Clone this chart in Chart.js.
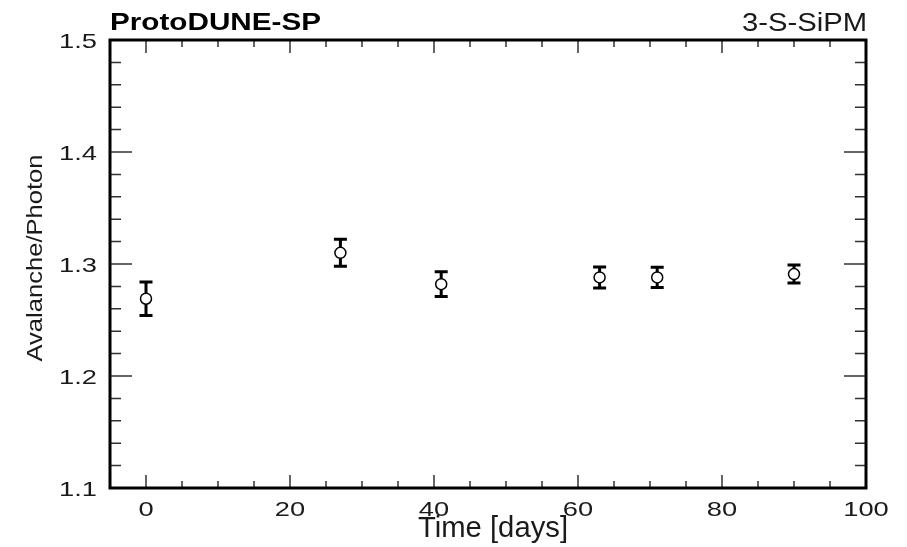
<!DOCTYPE html>
<html>
<head>
<meta charset="utf-8">
<script src="https://cdn.jsdelivr.net/npm/chart.js@4/dist/chart.umd.min.js"></script>
<style>
  html, body { margin: 0; padding: 0; background: #ffffff; }
  #wrap { width: 907px; height: 547px; }
</style>
</head>
<body>
<div id="wrap"><canvas id="chart" width="907" height="547"></canvas></div>
<script>
// Measured gain of the 3-S-SiPM over time
const days = [0, 27, 41, 63, 71, 90];
const avalanchePerPhoton = [1.269, 1.310, 1.282, 1.288, 1.288, 1.291];
const errors = [0.015, 0.012, 0.011, 0.0094, 0.009, 0.008];

const xTickValues = [0, 20, 40, 60, 80, 100];
const xTickLabels = ['0', '20', '40', '60', '80', '100'];
const yTickValues = [1.1, 1.2, 1.3, 1.4, 1.5];
const yTickLabels = ['1.1', '1.2', '1.3', '1.4', '1.5'];

const FONT = "'Liberation Sans', Arial, Helvetica, sans-serif";
const LABEL_FONT = '21px ' + FONT;
const LABEL_STRETCH = 1.3;

// Text with a horizontal stretch factor k (along the text direction)
function drawText(ctx, text, font, x, y, k, align, rotated, color) {
  ctx.save();
  ctx.font = font;
  ctx.fillStyle = color || '#000';
  ctx.textBaseline = 'alphabetic';
  ctx.translate(x, y);
  if (rotated) ctx.rotate(-Math.PI / 2);
  ctx.scale(k, 1);
  ctx.textAlign = align;
  ctx.fillText(text, 0, 0);
  ctx.restore();
}

// Same, with k chosen so the text spans the given width
function fitText(ctx, text, font, x, y, width, align, rotated, color) {
  ctx.save();
  ctx.font = font;
  const k = width / ctx.measureText(text).width;
  ctx.restore();
  drawText(ctx, text, font, x, y, k, align, rotated, color);
}

// Frame with inward ticks on all four sides, tick labels, error bars and titles
const framePlugin = {
  id: 'frame',
  beforeDatasetsDraw(chart) {
    const ctx = chart.ctx;
    const { left, right, top, bottom } = chart.chartArea;
    const xs = chart.scales.x, ys = chart.scales.y;
    ctx.save();

    // ticks
    ctx.strokeStyle = '#333';
    ctx.lineWidth = 1.5;
    ctx.beginPath();
    for (let v = Math.ceil(xs.min / 5) * 5; v < xs.max; v += 5) {
      const px = xs.getPixelForValue(v);
      if (px <= left + 1 || px >= right - 1) continue;
      const len = v % 20 === 0 ? 13 : 7;
      ctx.moveTo(px, bottom); ctx.lineTo(px, bottom - len);
      ctx.moveTo(px, top); ctx.lineTo(px, top + len);
    }
    for (let k = 1; k < 20; k++) {
      const py = ys.getPixelForValue(ys.min + k * 0.02);
      const len = k % 5 === 0 ? 22 : 11;
      ctx.moveTo(left, py); ctx.lineTo(left + len, py);
      ctx.moveTo(right, py); ctx.lineTo(right - len, py);
    }
    ctx.stroke();

    // frame
    ctx.strokeStyle = '#000';
    ctx.lineWidth = 3;
    ctx.strokeRect(left, top, right - left, bottom - top);

    // error bars
    ctx.lineWidth = 3;
    ctx.lineCap = 'butt';
    ctx.beginPath();
    for (let i = 0; i < days.length; i++) {
      const px = xs.getPixelForValue(days[i]);
      const y1 = ys.getPixelForValue(avalanchePerPhoton[i] + errors[i]);
      const y2 = ys.getPixelForValue(avalanchePerPhoton[i] - errors[i]);
      ctx.moveTo(px, y1); ctx.lineTo(px, y2);
      ctx.moveTo(px - 6.5, y1); ctx.lineTo(px + 6.5, y1);
      ctx.moveTo(px - 6.5, y2); ctx.lineTo(px + 6.5, y2);
    }
    ctx.stroke();
    ctx.restore();

    // tick labels
    xTickValues.forEach((v, i) => {
      drawText(ctx, xTickLabels[i], LABEL_FONT, xs.getPixelForValue(v), bottom + 28,
               LABEL_STRETCH, 'center', false, '#1a1a1a');
    });
    yTickValues.forEach((v, i) => {
      drawText(ctx, yTickLabels[i], LABEL_FONT, left - 13, ys.getPixelForValue(v) + 8,
               LABEL_STRETCH, 'right', false, '#1a1a1a');
    });
  },
  afterDraw(chart) {
    const ctx = chart.ctx;
    const { left, right } = chart.chartArea;
    fitText(ctx, 'ProtoDUNE-SP', 'bold 24px ' + FONT, left, 30, 211, 'left', false);
    fitText(ctx, '3-S-SiPM', '25px ' + FONT, right + 1, 31, 125, 'right', false, '#1a1a1a');
    fitText(ctx, 'Time [days]', '30px ' + FONT, 493, 537, 150, 'center', false, '#1a1a1a');
    fitText(ctx, 'Avalanche/Photon', '22px ' + FONT, 42, 258, 207, 'center', true, '#1a1a1a');
  }
};

new Chart(document.getElementById('chart'), {
  type: 'scatter',
  data: {
    datasets: [{
      data: days.map((d, i) => ({ x: d, y: avalanchePerPhoton[i] })),
      pointRadius: 5.5,
      pointHoverRadius: 5.5,
      pointBorderWidth: 1.5,
      pointBackgroundColor: '#ffffff',
      pointBorderColor: '#000000',
      showLine: false
    }]
  },
  options: {
    responsive: false,
    animation: false,
    events: [],
    layout: { padding: { top: 40, right: 41, left: 0, bottom: 0 } },
    plugins: { legend: { display: false }, tooltip: { enabled: false }, title: { display: false } },
    scales: {
      x: {
        type: 'linear',
        min: -5,
        max: 100,
        border: { display: false },
        grid: { display: false, drawTicks: false },
        afterBuildTicks: s => { s.ticks = xTickValues.map(v => ({ value: v })); },
        afterFit: s => { s.height = 59; },
        ticks: { display: false }
      },
      y: {
        type: 'linear',
        min: 1.1,
        max: 1.5,
        border: { display: false },
        grid: { display: false, drawTicks: false },
        afterBuildTicks: s => { s.ticks = yTickValues.map(v => ({ value: v })); },
        afterFit: s => { s.width = 110; },
        ticks: { display: false }
      }
    }
  },
  plugins: [framePlugin]
});
</script>
</body>
</html>
